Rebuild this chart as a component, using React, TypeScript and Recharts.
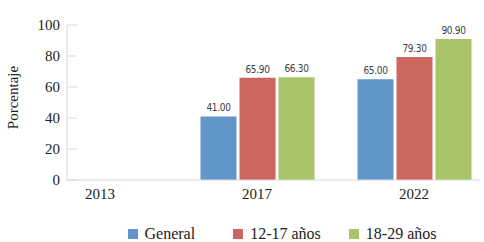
import React from "react";
import { BarChart, Bar, XAxis, YAxis, Legend, LabelList } from "recharts";

const years = ["2013", "2017", "2022"];
const general = [null, 41.0, 65.0];
const age12to17 = [null, 65.9, 79.3];
const age18to29 = [null, 66.3, 90.9];
const yTicks = [0, 20, 40, 60, 80, 100];

const series = [
  { key: "general", name: "General", color: "#6196C9" },
  { key: "age12to17", name: "12-17 a\u00f1os", color: "#CE6660" },
  { key: "age18to29", name: "18-29 a\u00f1os", color: "#AAC46A" },
];

const data = years.map((year, i) => ({
  year,
  general: general[i],
  age12to17: age12to17[i],
  age18to29: age18to29[i],
}));

const serif = "'Liberation Serif', serif";
const axisGray = "#d9d9d9";
const legendGaps = [0, 38, 28];

const fmt = (v: any) => (v == null ? "" : Number(v).toFixed(2));

function LegendRow({ payload }: any) {
  const items = [...(payload || [])].sort(
    (a: any, b: any) => series.findIndex((s) => s.name === a.value) - series.findIndex((s) => s.name === b.value)
  );
  return (
    <div
      style={{
        display: "flex",
        justifyContent: "center",
        alignItems: "center",
        paddingLeft: 84,
        height: 16,
        fontFamily: serif,
        fontSize: 16,
        color: "#222",
      }}
    >
      {items.map((p: any, i: number) => (
        <span
          key={p.value}
          style={{ display: "inline-flex", alignItems: "center", marginLeft: legendGaps[i], fontFamily: serif }}
        >
          <span style={{ width: 10, height: 10, background: p.color, marginRight: 7, display: "inline-block" }} />
          <span style={{ fontFamily: serif }}>{p.value}</span>
        </span>
      ))}
    </div>
  );
}

function YTitle(props: any) {
  const vb = props.viewBox;
  const cx = vb.x + 13;
  const cy = vb.y + vb.height / 2 - 5;
  return (
    <text
      x={cx}
      y={cy}
      transform={`rotate(-90 ${cx} ${cy})`}
      textAnchor="middle"
      dominantBaseline="central"
      fill="#222"
      style={{ fontSize: 15, fontFamily: serif }}
    >
      Porcentaje
    </text>
  );
}

export default function App() {
  return (
    <div style={{ width: 484, height: 242 }}>
      <style>{"body{margin:0}"}</style>
      <BarChart
        width={484}
        height={242}
        data={data}
        margin={{ top: 25, right: 4, left: 0, bottom: 0 }}
        barSize={36}
        barGap={3}
      >
        <XAxis
          dataKey="year"
          padding={{ left: -45.5, right: -12.5 }}
          axisLine={{ stroke: axisGray }}
          tickLine={false}
          tickSize={0}
          tickMargin={8}
          height={46}
          tick={{ fill: "#222", fontSize: 15, fontFamily: serif }}
        />
        <YAxis
          width={67}
          domain={[0, 100]}
          ticks={yTicks}
          interval={0}
          axisLine={{ stroke: axisGray }}
          tickLine={{ stroke: axisGray }}
          tickSize={-10}
          tickMargin={17}
          tick={{ fill: "#222", fontSize: 15, fontFamily: serif }}
          label={<YTitle />}
        />
        <Legend verticalAlign="bottom" height={16} content={<LegendRow />} />
        {series.map((s) => (
          <Bar key={s.key} dataKey={s.key} name={s.name} fill={s.color} isAnimationActive={false}>
            <LabelList
              dataKey={s.key}
              position="top"
              formatter={fmt}
              style={{
                fill: "#404040",
                fontSize: 10,
                letterSpacing: -0.3,
                fontFamily: "'Liberation Sans Narrow', 'DejaVu Sans Condensed', 'Liberation Sans', sans-serif",
              }}
            />
          </Bar>
        ))}
      </BarChart>
    </div>
  );
}
